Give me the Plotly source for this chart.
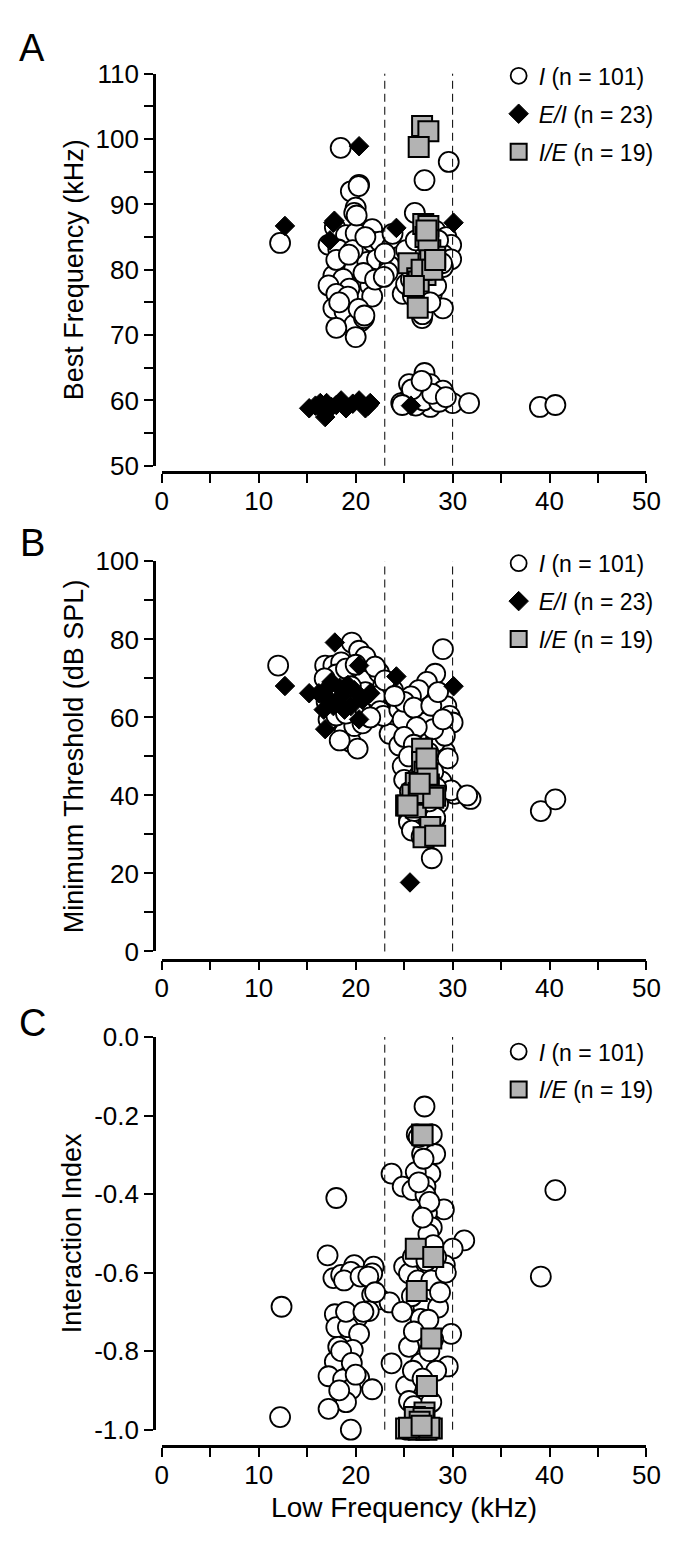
import plotly.graph_objects as go

# ---------------- data ----------------
# Panel A: Best Frequency vs Low Frequency
A_I_x = [18.45, 29.6, 27.1, 20.35, 19.5, 20.0, 19.85, 26.1, 12.2, 17.85, 19.0, 21.7, 20.0, 20.7, 21.7,
         17.2, 18.2, 22.5, 23.7, 24.5, 19.0, 19.85, 21.2, 22.2, 23.5, 17.7, 18.7, 17.2, 19.35, 21.5,
         23.3, 18.0, 19.2, 21.7, 17.7, 18.85, 20.5, 19.85, 18.0, 25.2, 28.2, 29.35, 29.85, 29.0, 29.85,
         29.0, 24.85, 25.85, 27.85, 29.0, 26.85, 25.2, 20.0, 20.85, 27.1, 25.5, 27.7, 29.0, 26.5, 28.2,
         25.2, 30.0, 31.7, 27.7, 25.5, 24.7, 39.0, 40.6, 20.3, 20.1, 18.0, 19.7, 20.8, 22.0, 18.3,
         20.3, 20.9, 19.3, 21.0, 23.0, 23.8, 22.9, 25.7, 26.6, 27.5, 28.5, 28.9, 27.0, 28.3, 25.9,
         26.9, 27.7, 26.2, 27.0, 28.6, 25.8, 27.9, 26.8, 24.8, 29.3, 26.2]
A_I_y = [98.65, 96.5, 93.7, 93.0, 92.0, 89.5, 88.7, 88.7, 84.1, 86.5, 85.3, 86.2, 85.6, 82.8, 84.3,
         83.8, 83.1, 84.3, 83.5, 82.0, 80.9, 80.2, 81.2, 81.6, 80.6, 79.1, 78.6, 77.6, 77.1, 77.6,
         79.6, 76.3, 75.9, 75.9, 74.1, 73.6, 72.1, 71.6, 71.1, 83.0, 86.0, 85.0, 83.8, 82.3, 81.6,
         80.4, 76.3, 76.6, 76.3, 74.1, 72.6, 77.8, 69.7, 72.6, 64.2, 62.5, 62.5, 61.5, 61.0, 60.6,
         59.6, 59.6, 59.6, 59.0, 60.3, 59.6, 59.0, 59.3, 92.8, 88.3, 81.5, 83.0, 79.5, 78.5, 75.0,
         74.0, 73.0, 82.3, 85.0, 82.5, 85.5, 78.9, 78.5, 80.9, 83.5, 84.5, 81.0, 77.0, 77.5, 76.0,
         73.2, 75.0, 59.2, 60.0, 59.8, 61.7, 61.0, 63.0, 59.3, 60.5, 84.5]
A_EI_x = [20.35, 12.7, 17.7, 17.35, 24.2, 30.1, 17.8, 15.2, 16.35, 16.85, 17.0, 18.5, 19.0, 20.35,
          21.0, 21.5, 17.5, 25.7, 15.85, 18.0, 19.7, 21.3, 16.6]
A_EI_y = [98.9, 86.7, 87.2, 84.5, 86.4, 87.2, 87.5, 58.8, 59.6, 57.45, 59.6, 60.0, 58.8, 60.0,
          58.8, 59.6, 59.0, 59.2, 59.2, 59.3, 59.5, 59.2, 58.5]
A_IE_x = [26.85, 27.5, 26.5, 26.97, 27.5, 27.2, 27.7, 28.2, 25.45, 26.35, 27.2, 26.5, 26.4, 27.5,
          26.8, 27.9, 26.0, 28.2, 27.3]
A_IE_y = [102.0, 101.2, 98.8, 87.0, 86.7, 85.0, 83.0, 82.0, 81.0, 78.7, 79.2, 78.2, 74.2, 84.5,
          80.0, 80.0, 77.5, 81.5, 86.0]

# Panel B: Minimum Threshold vs Low Frequency
B_I_x = [12.0, 19.6, 20.35, 16.85, 17.7, 18.5, 21.7, 21.35, 21.85, 22.35, 23.85, 23.2, 29.0, 28.2,
         27.35, 26.5, 25.7, 23.7, 23.7, 23.5, 25.5, 26.7, 27.2, 29.35, 29.7, 30.0, 27.0, 24.5, 29.2,
         29.5, 24.85, 28.85, 30.2, 31.85, 25.5, 28.2, 18.85, 19.5, 20.2, 18.35, 17.2, 19.85, 21.0,
         18.85, 20.85, 22.0, 22.5, 22.85, 24.5, 24.85, 28.5, 26.2, 28.2, 29.2, 25.5, 27.85, 29.85,
         31.5, 28.2, 39.1, 40.6, 18.0, 19.0, 20.0, 17.5, 19.3, 20.5, 21.0, 18.0, 19.0, 20.7, 21.5,
         16.8, 22.4, 25.0, 26.0, 27.8, 28.5, 28.0, 26.3, 25.0, 26.0, 27.5, 25.5, 27.2, 28.0, 25.0,
         26.5, 28.3, 25.6, 27.6, 26.0, 25.8, 26.8, 22.0, 19.5, 17.0, 23.0, 24.0, 29.0, 27.0]
B_I_y = [73.3, 79.2, 77.1, 73.3, 73.3, 74.1, 73.3, 70.8, 67.9, 64.1, 67.0, 63.7, 77.5, 71.2,
         69.1, 67.0, 65.4, 59.5, 57.4, 55.8, 61.6, 60.8, 58.7, 62.9, 60.4, 58.7, 55.3, 52.8, 51.2,
         49.5, 47.5, 43.6, 40.4, 39.1, 33.9, 33.9, 56.2, 53.7, 52.0, 54.1, 59.5, 57.8, 75.5,
         69.4, 69.4, 65.4, 61.6, 60.4, 62.0, 59.5, 37.9, 50.3, 53.7, 55.3, 33.1, 23.9, 41.3,
         40.0, 34.3, 36.0, 39.0, 71.0, 72.5, 73.5, 67.0, 64.0, 62.0, 66.5, 60.5, 61.0, 58.5, 60.0,
         70.0, 71.5, 64.0, 62.5, 63.0, 66.5, 57.0, 57.5, 55.0, 53.0, 51.0, 50.0, 48.0, 46.0, 44.0,
         45.0, 42.0, 41.0, 38.5, 36.0, 31.0, 29.5, 73.0, 68.0, 64.0, 69.5, 65.5, 59.5, 41.5]
B_EI_x = [17.85, 12.7, 15.2, 20.35, 24.2, 30.1, 16.7, 16.85, 17.2, 18.5, 17.7, 18.85, 19.85, 20.7,
          20.35, 21.5, 16.2, 19.2, 17.5, 25.6, 18.35, 19.5, 16.85]
B_EI_y = [79.2, 68.05, 66.2, 73.3, 70.5, 68.0, 62.0, 57.0, 67.9, 65.4, 62.9, 62.0, 67.0, 64.5,
          59.5, 66.2, 66.2, 68.3, 69.1, 17.7, 67.6, 62.9, 65.0]
B_IE_x = [26.85, 26.85, 27.1, 26.2, 27.55, 28.2, 26.35, 25.2, 26.2, 27.7, 27.0, 28.2, 25.85, 26.5,
          28.0, 25.35, 27.4, 27.3, 26.6]
B_IE_y = [52.0, 48.6, 46.1, 43.2, 42.8, 39.9, 39.9, 37.4, 36.9, 31.9, 29.3, 29.7, 40.2, 40.6,
          39.4, 37.4, 45.3, 49.5, 43.0]

# Panel C: Interaction Index vs Low Frequency
C_I_x = [27.1, 26.3, 27.85, 26.85, 28.2, 23.7, 27.7, 26.2, 24.85, 25.85, 27.2, 27.2, 18.0, 29.1,
         27.35, 27.85, 27.5, 31.2, 30.0, 17.1, 19.85, 21.85, 25.0, 29.2, 17.7, 18.5, 19.5, 21.7,
         25.5, 28.5, 12.35, 21.7, 22.5, 23.5, 27.0, 28.5, 17.85, 20.2, 21.35, 26.7, 29.85, 18.0,
         19.2, 20.35, 25.5, 18.2, 19.7, 26.7, 23.7, 29.5, 17.85, 17.2, 18.7, 20.35, 21.7, 19.5,
         25.2, 27.2, 25.5, 19.0, 17.2, 12.2, 19.5, 39.1, 40.6, 25.3, 26.5, 27.0, 26.5, 27.6, 26.9,
         28.0, 25.9, 27.3, 28.3, 26.4, 27.8, 25.8, 28.7, 27.5, 26.0, 28.0, 27.6, 25.9, 28.3, 26.9,
         26.0, 27.8, 18.8, 20.5, 19.0, 20.8, 21.3, 18.5, 19.6, 20.0, 18.3, 22.0, 24.8, 29.3, 27.1]
C_I_y = [-0.177, -0.248, -0.248, -0.298, -0.298, -0.348, -0.348, -0.344, -0.381, -0.390, -0.381,
         -0.402, -0.41, -0.439, -0.448, -0.485, -0.502, -0.518, -0.539, -0.556, -0.581, -0.585,
         -0.585, -0.581, -0.614, -0.606, -0.598, -0.602, -0.602, -0.598, -0.687, -0.656, -0.668,
         -0.676, -0.689, -0.689, -0.706, -0.714, -0.698, -0.718, -0.756, -0.739, -0.739, -0.756,
         -0.789, -0.789, -0.797, -0.831, -0.831, -0.839, -0.827, -0.864, -0.872, -0.868, -0.897,
         -0.897, -0.889, -0.914, -0.927, -0.930, -0.947, -0.968, -1.0, -0.61, -0.39, -1.0, -0.255,
         -0.31, -0.37, -0.42, -0.46, -0.53, -0.56, -0.57, -0.56, -0.62, -0.62, -0.66, -0.65, -0.72,
         -0.75, -0.77, -0.80, -0.85, -0.85, -0.87, -0.94, -0.93, -0.62, -0.61, -0.70, -0.70, -0.61,
         -0.80, -0.83, -0.86, -0.90, -0.65, -0.70, -0.60, -0.99]
C_IE_x = [26.85, 26.2, 28.0, 26.3, 27.8, 27.35, 27.1, 26.1, 25.2, 26.3, 27.85, 26.5, 27.3, 26.9,
          27.0, 26.6, 25.5, 27.6, 26.8]
C_IE_y = [-0.248, -0.539, -0.56, -0.647, -0.768, -0.889, -0.956, -0.968, -0.997, -0.997, -0.997,
          -1.0, -1.0, -0.25, -0.97, -0.98, -0.995, -0.995, -0.99]

# boundaries (dashed lines)
BOUNDARIES = [23, 30]

# tick labels
X_TICKS = [0, 10, 20, 30, 40, 50]
X_TICK_LABELS = ["0", "10", "20", "30", "40", "50"]
X_MINOR = [5, 15, 25, 35, 45]
A_TICKS = [50, 60, 70, 80, 90, 100, 110]
A_TICK_LABELS = ["50", "60", "70", "80", "90", "100", "110"]
A_MINOR = [55, 65, 75, 85, 95, 105]
B_TICKS = [0, 20, 40, 60, 80, 100]
B_TICK_LABELS = ["0", "20", "40", "60", "80", "100"]
B_MINOR = [10, 30, 50, 70, 90]
C_TICKS = [-1.0, -0.8, -0.6, -0.4, -0.2, 0.0]
C_TICK_LABELS = ["-1.0", "-0.8", "-0.6", "-0.4", "-0.2", "0.0"]

NAME_I = "<i>I</i> (n = 101)"
NAME_EI = "<i>E/I</i> (n = 23)"
NAME_IE = "<i>I/E</i> (n = 19)"

# ---------------- layout helpers ----------------
W, H = 683, 1552
FONT = "Liberation Sans"


def py(p):
    return (H - p) / H


def pxx(p):
    return p / W


X_DOMAIN = [pxx(151.5), pxx(651.5)]
Y_AXIS_POS = pxx(143.3)

panels = [
    dict(letter="A", yr=[50, 110], ypx=(451.5, 51.7), xline=458.3, ticks=A_TICKS, labels=A_TICK_LABELS,
         minor=A_MINOR, title="Best Frequency (kHz)", leg_top=32, letter_y=26,
         series=[(A_I_x, A_I_y, "I"), (A_EI_x, A_EI_y, "EI"), (A_IE_x, A_IE_y, "IE")]),
    dict(letter="B", yr=[0, 100], ypx=(946.8, 549.0), xline=955.0, ticks=B_TICKS, labels=B_TICK_LABELS,
         minor=B_MINOR, title="Minimum Threshold (dB SPL)", leg_top=529, letter_y=530,
         series=[(B_I_x, B_I_y, "I"), (B_EI_x, B_EI_y, "EI"), (B_IE_x, B_IE_y, "IE")]),
    dict(letter="C", yr=[-1.0, 0.0], ypx=(1434.4, 1034.0), xline=1451.5, ticks=C_TICKS, labels=C_TICK_LABELS,
         minor=[], title="Interaction Index", leg_top=1027, letter_y=1020,
         series=[(C_I_x, C_I_y, "I"), (C_IE_x, C_IE_y, "IE")]),
]

styles = {
    "I": dict(name=NAME_I, marker=dict(symbol="circle", size=20, color="white",
                                        line=dict(color="black", width=1.8))),
    "EI": dict(name=NAME_EI, marker=dict(symbol="diamond", size=15, color="black",
                                          line=dict(color="black", width=1))),
    "IE": dict(name=NAME_IE, marker=dict(symbol="square", size=20, color="#b3b3b3",
                                          line=dict(color="black", width=2))),
}

fig = go.Figure()
layout = dict(width=W, height=H, margin=dict(l=0, r=0, t=0, b=0),
              paper_bgcolor="white", plot_bgcolor="white",
              font=dict(family=FONT, color="black"), showlegend=True,
              annotations=[], shapes=[])

for i, p in enumerate(panels, start=1):
    sfx = "" if i == 1 else str(i)
    xa, ya = "x" + sfx, "y" + sfx
    leg = "legend" + sfx
    for (xs, ys, kind) in p["series"]:
        st = styles[kind]
        fig.add_trace(go.Scatter(x=xs, y=ys, mode="markers", name=st["name"], marker=st["marker"],
                                 xaxis=xa, yaxis=ya, legend=leg, legendgroup=p["letter"] + kind,
                                 cliponaxis=False, hoverinfo="x+y"))
    xaxis = dict(domain=X_DOMAIN, range=[0, 50], anchor="free", position=py(p["xline"]),
                 showline=True, linewidth=2.5, linecolor="black", mirror=False,
                 ticks="outside", ticklen=9, tickwidth=2, tickcolor="black",
                 tickmode="array", tickvals=X_TICKS, ticktext=X_TICK_LABELS, ticklabelstandoff=-4,
                 minor=dict(tickmode="array", tickvals=X_MINOR, ticks="outside", ticklen=9,
                            tickwidth=2, tickcolor="black", showgrid=False),
                 showgrid=False, zeroline=False, tickfont=dict(size=26, family=FONT, color="black"))
    if i == 3:
        xaxis["title"] = dict(text="Low Frequency (kHz)", font=dict(size=28, family=FONT, color="black"),
                              standoff=8)
    yaxis = dict(domain=[py(p["ypx"][0]), py(p["ypx"][1])], range=p["yr"], anchor="free",
                 position=Y_AXIS_POS, showline=True, linewidth=2.5, linecolor="black",
                 ticks="outside", ticklen=9, tickwidth=2, tickcolor="black",
                 tickmode="array", tickvals=p["ticks"], ticktext=p["labels"],
                 showgrid=False, zeroline=False, tickfont=dict(size=26, family=FONT, color="black"),
                 title=dict(text=p["title"], font=dict(size=27, family=FONT, color="black"), standoff=3))
    if p["minor"]:
        yaxis["minor"] = dict(tickmode="array", tickvals=p["minor"], ticks="outside", ticklen=9,
                              tickwidth=2, tickcolor="black", showgrid=False)
    layout["xaxis" + sfx] = xaxis
    layout["yaxis" + sfx] = yaxis
    layout[leg] = dict(x=pxx(499), y=py(p["leg_top"]), xanchor="left", yanchor="top",
                       bgcolor="rgba(0,0,0,0)", borderwidth=0, tracegroupgap=5,
                       font=dict(size=23, family=FONT, color="black"), traceorder="grouped")
    for b in BOUNDARIES:
        layout["shapes"].append(dict(type="line", xref=xa, yref=ya + " domain", x0=b, x1=b, y0=0, y1=1,
                                     line=dict(color="black", width=1, dash="8px,5px")))
    layout["annotations"].append(dict(text=p["letter"], xref="paper", yref="paper",
                                      x=pxx(18), y=py(p["letter_y"]), xanchor="center", yanchor="middle",
                                      showarrow=False, font=dict(size=38, family=FONT, color="black")))

fig.update_layout(**layout)
fig.write_html("out.html")
